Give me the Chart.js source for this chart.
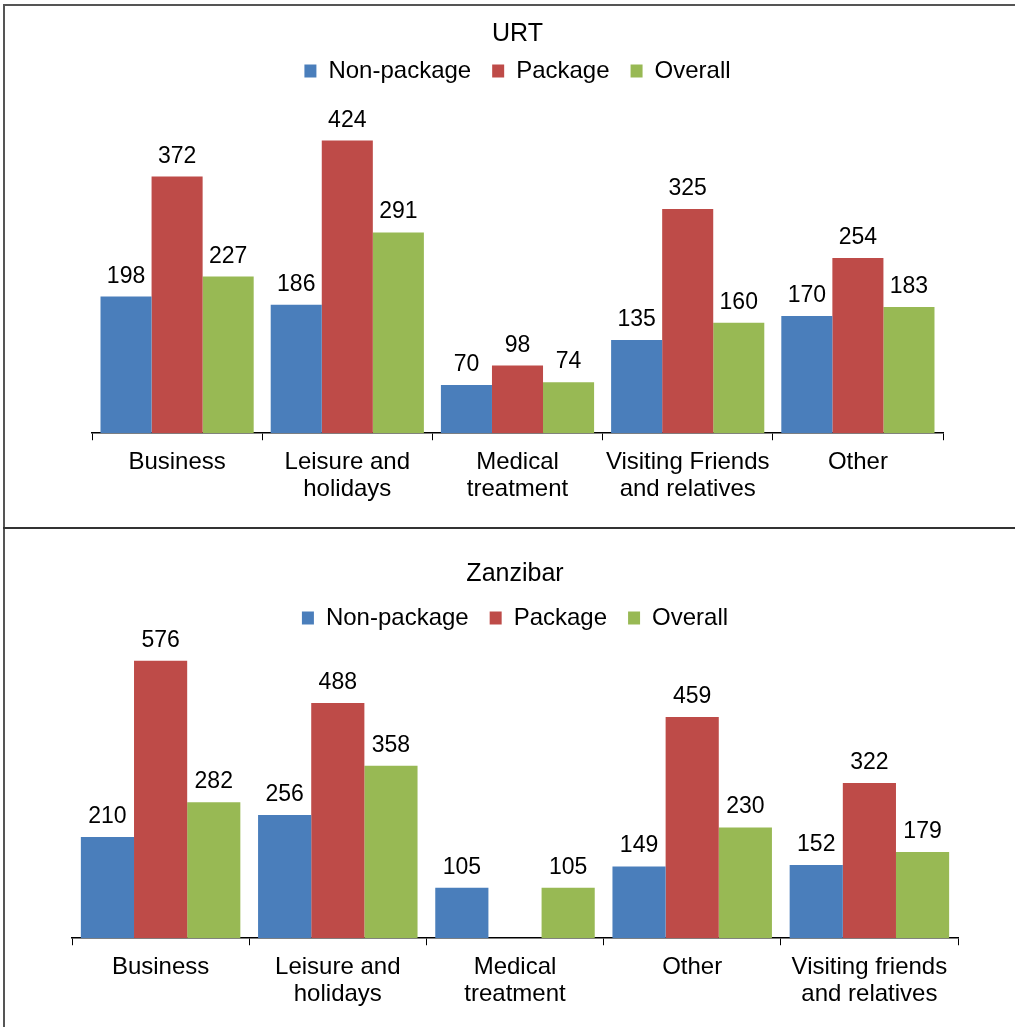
<!DOCTYPE html>
<html>
<head>
<meta charset="utf-8">
<script src="https://cdn.jsdelivr.net/npm/chart.js@4/dist/chart.umd.min.js"></script>
<style>
  html, body { margin: 0; padding: 0; background: #fff; }
  #page { position: relative; width: 1015px; height: 1027px; overflow: hidden; }
  .frame { position: absolute; left: 3px; top: 4px; width: 1020px; height: 1030px;
           border-left: 2px solid #555; border-top: 2px solid #555; }
  .divider { position: absolute; left: 3px; top: 527px; width: 1020px; height: 0;
             border-top: 2px solid #333; }
  .box { position: absolute; left: 5px; width: 1008px; }
  #top { top: 6px; height: 520px; }
  #bottom { top: 531px; height: 496px; }
</style>
</head>
<body>
<div id="page">
  <div class="frame"></div>
  <div class="divider"></div>
  <div class="box" id="top"><canvas id="urtChart"></canvas></div>
  <div class="box" id="bottom"><canvas id="zanChart"></canvas></div>
</div>
<script>
// URT data
const urtCategories = ['Business', ['Leisure and', 'holidays'], ['Medical', 'treatment'], ['Visiting Friends', 'and relatives'], 'Other'];
const urtNonPackage = [198, 186, 70, 135, 170];
const urtPackage = [372, 424, 98, 325, 254];
const urtOverall = [227, 291, 74, 160, 183];

// Zanzibar data
const zanCategories = ['Business', ['Leisure and', 'holidays'], ['Medical', 'treatment'], 'Other', ['Visiting friends', 'and relatives']];
const zanNonPackage = [210, 256, 105, 149, 152];
const zanPackage = [576, 488, null, 459, 322];
const zanOverall = [282, 358, 105, 230, 179];

const seriesNames = ['Non-package', 'Package', 'Overall'];
const colors = ['#4A7EBB', '#BE4B48', '#98B954'];
const FONT = '"Liberation Sans", Arial, Helvetica, sans-serif';

// draws the value above each bar
const valueLabels = {
  id: 'valueLabels',
  afterDatasetsDraw(chart) {
    const ctx = chart.ctx;
    ctx.save();
    ctx.font = '23px ' + FONT;
    ctx.fillStyle = '#000';
    ctx.textAlign = 'center';
    ctx.textBaseline = 'alphabetic';
    chart.data.datasets.forEach((ds, i) => {
      chart.getDatasetMeta(i).data.forEach((bar, j) => {
        if (ds.data[j] == null) return;
        ctx.fillText(ds.data[j], bar.x, bar.y - 14);
      });
    });
    ctx.restore();
  }
};

function makeChart(id, title, labels, values, yMax, pad, titlePad) {
  const ctx = document.getElementById(id).getContext('2d');
  return new Chart(ctx, {
    type: 'bar',
    data: {
      labels: labels,
      datasets: values.map((v, i) => ({
        label: seriesNames[i],
        data: v,
        backgroundColor: colors[i],
        borderWidth: 0,
        categoryPercentage: 0.9,
        barPercentage: 1.0,
      })),
    },
    options: {
      responsive: true,
      maintainAspectRatio: false,
      animation: false,
      layout: { padding: pad },
      plugins: {
        title: {
          display: true,
          text: title,
          color: '#000',
          font: { family: FONT, size: 25, weight: 'normal' },
          padding: titlePad,
        },
        legend: {
          labels: {
            color: '#000',
            font: { family: FONT, size: 24 },
            boxWidth: 12,
            boxHeight: 13,
            padding: 21,
          },
        },
        tooltip: { enabled: false },
      },
      scales: {
        x: {
          grid: { display: true, offset: true, drawOnChartArea: false, drawTicks: true, tickLength: 7, color: '#000' },
          border: { display: true, color: '#000', width: 1.5 },
          ticks: { color: '#000', font: { family: FONT, size: 24, lineHeight: 1.12 }, padding: 9, maxRotation: 0, autoSkip: false },
        },
        y: {
          display: false,
          min: 0,
          max: yMax,
        },
      },
    },
    plugins: [valueLabels],
  });
}

makeChart('urtChart', 'URT', urtCategories, [urtNonPackage, urtPackage, urtOverall], 493,
  { left: 87, right: 70, top: 0, bottom: 14 }, { top: 13, bottom: -11 });
makeChart('zanChart', 'Zanzibar', zanCategories, [zanNonPackage, zanPackage, zanOverall], 619,
  { left: 67, right: 55, top: 0, bottom: 10 }, { top: 28, bottom: -4 });
</script>
</body>
</html>
